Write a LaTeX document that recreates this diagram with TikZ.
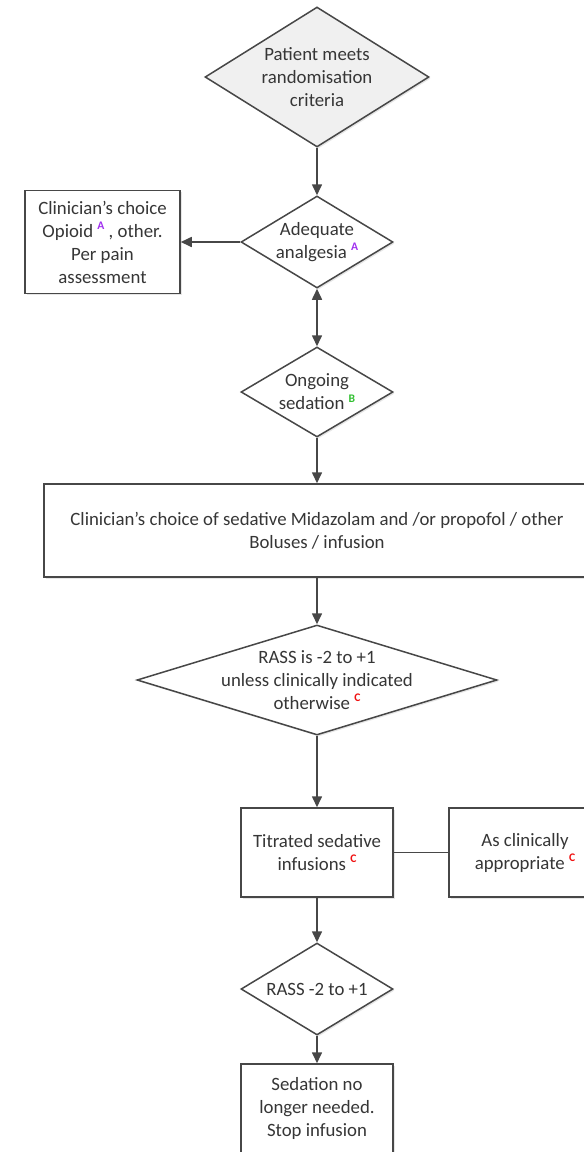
\documentclass[tikz,border=0pt]{standalone}
\usepackage{fontspec}
\setmainfont{Carlito}
\usepackage{xcolor}
\usetikzlibrary{shapes.geometric,arrows.meta,shadows}
\definecolor{txtgray}{HTML}{363636}
\definecolor{linegray}{HTML}{474747}
\definecolor{markA}{HTML}{A030F0}
\definecolor{markB}{HTML}{30C030}
\definecolor{markC}{HTML}{F01010}
\newcommand{\supmark}[2]{\raisebox{0.85ex}{\fontsize{5.8}{6}\selectfont\bfseries\textcolor{#1}{#2}}}

\begin{document}
\begin{tikzpicture}[x=0.5pt,y=-0.5pt,
    font=\fontsize{9.4}{11.5}\selectfont, text=txtgray,
    box/.style={draw=linegray, line width=0.75pt, fill=white, align=center, inner sep=2pt,
      drop shadow={shadow xshift=0.8pt, shadow yshift=-0.8pt, opacity=0.2}},
    decision/.style={diamond, draw=linegray, line width=0.75pt, fill=white, align=center, inner sep=-4pt,
      drop shadow={shadow xshift=0.8pt, shadow yshift=-0.8pt, opacity=0.2}},
    flow/.style={draw=linegray, line width=0.8pt, -{Triangle[length=5.5pt,width=5pt]}},
    link/.style={draw=linegray, line width=0.8pt}]

      % Page, cut as in the reference
      \useasboundingbox (0,0) rectangle (584,1152);
      \clip (0,0) rectangle (584,1152);

      % Start and analgesia
      \node[decision, minimum width=112pt, minimum height=70pt, aspect=1.6, fill=gray!12] (meets) at (317,77)
        {Patient meets\\randomisation\\criteria};
      \node[decision, minimum width=76pt, minimum height=46pt, aspect=1.65] (analg) at (317,242)
        {Adequate\\analgesia \supmark{markA}{A}};
      \node[box, minimum width=77.5pt, minimum height=51.5pt] (opioid) at (102.5,242)
        {Clinician's choice\\Opioid \supmark{markA}{A} , other.\\Per pain\\assessment};

      % Sedation
      \node[decision, minimum width=76pt, minimum height=45pt, aspect=1.69] (ongoing) at (317,392)
        {Ongoing\\sedation \supmark{markB}{B}};
      \node[box, minimum width=273pt, minimum height=46.5pt] (sedative) at (317,530.5)
        {Clinician's choice of sedative Midazolam and /or propofol / other\\Boluses / infusion};
      \node[decision, minimum width=180pt, minimum height=55pt, aspect=3.27] (rass) at (317,680)
        {RASS is -2 to +1\\unless clinically indicated\\otherwise \supmark{markC}{C}};

      % Titration and stop
      \node[box, minimum width=76pt, minimum height=44.5pt] (titrated) at (317,852.5)
        {Titrated sedative\\infusions \supmark{markC}{C}};
      \node[box, minimum width=76pt, minimum height=44.5pt] (asclin) at (525,852.5)
        {As clinically\\appropriate \supmark{markC}{C}};
      \node[decision, minimum width=76pt, minimum height=46pt, aspect=1.65] (rassok) at (317,989)
        {RASS -2 to +1};
      \node[box, minimum width=76pt, minimum height=44.5pt] (stop) at (317,1108.5)
        {Sedation no\\longer needed.\\Stop infusion};

      % Connectors
      \draw[flow] (meets) -- (analg);
      \draw[flow] (analg) -- (opioid);
      \draw[flow, {Triangle[length=5.5pt,width=5pt]}-{Triangle[length=5.5pt,width=5pt]}] (analg) -- (ongoing);
      \draw[flow] (ongoing) -- (sedative);
      \draw[flow] (sedative) -- (rass);
      \draw[flow] (rass) -- (titrated);
      \draw[link] (titrated) -- (asclin);
      \draw[flow] (titrated) -- (rassok);
      \draw[flow] (rassok) -- (stop);
    \end{tikzpicture}
\end{document}
